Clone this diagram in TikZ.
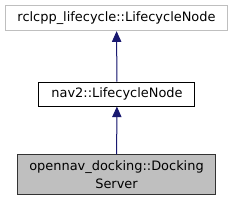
\documentclass[tikz,border=0pt]{standalone}
\usepackage{fontspec}
\setmainfont{DejaVu Sans}
\usetikzlibrary{arrows.meta}
\definecolor{edgeblue}{RGB}{25,25,112}
\definecolor{extgray}{RGB}{191,191,191}
\definecolor{curfill}{RGB}{191,191,191}
\tikzset{
  cls/.style={draw=black, fill=white, line width=0.75pt, inner sep=0pt,
              minimum width=#1, align=center,
              font=\fontsize{9.7}{13.5}\selectfont},
  extcls/.style={cls=#1, draw=extgray},
  curcls/.style={cls=#1, draw=black!80, fill=curfill},
  inh/.style={-{Triangle[length=8pt, width=7pt]}, draw=edgeblue,
              fill=edgeblue, line width=0.75pt},
}

\begin{document}
\begin{tikzpicture}[x=0.75pt, y=-0.75pt]
  \useasboundingbox (0,0) rectangle (233,201);

  % base classes
  \node[extcls=167pt, minimum height=19pt] (lcnode) at (116.5, 18)
    {rclcpp\_lifecycle::LifecycleNode};
  \node[cls=117pt, minimum height=18pt] (navnode) at (117, 94)
    {nav2::LifecycleNode};

  % documented class
  \node[curcls=149pt, minimum height=29.5pt] (docksrv) at (116.5, 174.5)
    {opennav\_docking::Docking\\Server};

  % inheritance
  \draw[inh] (navnode) -- (lcnode);
  \draw[inh] (docksrv) -- (navnode);

\end{tikzpicture}
\end{document}
